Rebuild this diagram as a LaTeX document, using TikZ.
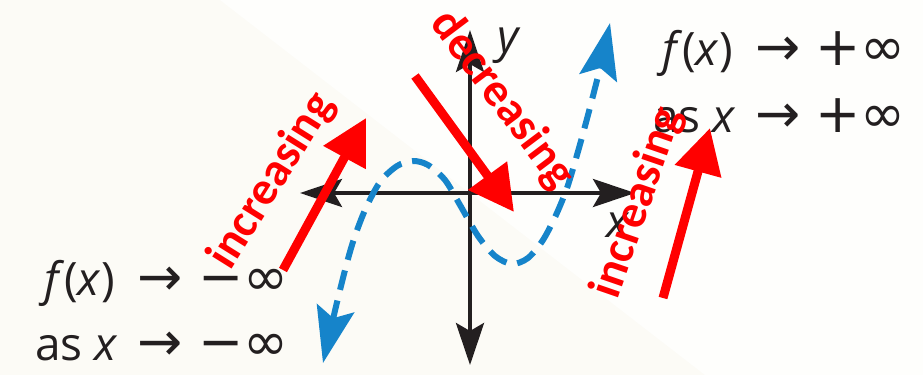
\documentclass[tikz,border=0pt]{standalone}
\usepackage{fontspec}
\setmainfont{Open Sans}
\newfontfamily\redfont{Carlito}
\newfontfamily\symfont{DejaVu Sans}
\usetikzlibrary{arrows.meta}
\definecolor{bg}{RGB}{252,251,246}
\definecolor{bgw}{RGB}{254,254,252}
\definecolor{ink}{RGB}{35,31,32}
\definecolor{curveblue}{RGB}{22,132,202}
\definecolor{redd}{RGB}{255,0,0}
\begin{document}
\begin{tikzpicture}[x=1pt,y=-1pt,
  axis/.style={draw=ink, line width=4pt, {Stealth[length=42pt,width=28pt,inset=8pt]}-{Stealth[length=42pt,width=28pt,inset=8pt]}},
  curvestyle/.style={draw=curveblue, line width=6pt, dash pattern=on 20pt off 11pt, {Stealth[length=56pt,width=38pt,inset=10pt]}-{Stealth[length=56pt,width=38pt,inset=10pt]}},
  redarrow/.style={draw=redd, line width=9pt, -{Triangle[length=45pt,width=46pt]}},
  redlabel/.style={text=redd, font=\redfont\bfseries\fontsize{47}{50}\selectfont, inner sep=0pt},
  mathtext/.style={text=ink, font=\fontsize{46}{50}\selectfont, inner sep=0pt},
  symtext/.style={text=ink, font=\symfont\fontsize{54}{58}\selectfont, inner sep=0pt},
]
\useasboundingbox (0,0) rectangle (923,375);
\fill[bg] (0,0) rectangle (923,375);
\fill[bgw] (220,0) -- (923,0) -- (923,375) -- (705,375) -- cycle;

% axes
\coordinate (xl) at (300,193);
\coordinate (xr) at (635,193);
\coordinate (yt) at (470,30);
\coordinate (yb) at (470,365);
\draw[axis] (xl) -- (xr);
\draw[axis] (yb) -- (yt);
\node[mathtext] (ylab) at (508,46) {\itshape y};
\node[mathtext] (xlab) at (618,225) {\itshape x};

% curve
\draw[curvestyle] plot[smooth, tension=0.5] coordinates {(323,363) (340,290) (352,245) (365,210) (380,182) (397,166) (413,161) (428,165) (445,180) (460,205) (478,236) (495,256) (512,264) (528,258) (543,240) (556,215) (567,188) (577,155) (588,115) (600,68) (610,23)};

% end behaviour texts
\node[mathtext, anchor=base east] (tr1a) at (733,65) {\textit{f}(\textit{x})};
\node[symtext, anchor=base] (tr1b) at (778,65) {→};
\node[symtext, anchor=base west] (tr1c) at (815,65) {+∞};
\node[mathtext, anchor=base east] (tr2a) at (736,132) {as \textit{x}};
\node[symtext, anchor=base] (tr2b) at (778,132) {→};
\node[symtext, anchor=base west] (tr2c) at (815,132) {+∞};

\node[mathtext, anchor=base east] (bl1a) at (115,295) {\textit{f}(\textit{x})};
\node[symtext, anchor=base] (bl1b) at (160,295) {→};
\node[symtext, anchor=base west] (bl1c) at (198,295) {−∞};
\node[mathtext, anchor=base east] (bl2a) at (118,360) {as \textit{x}};
\node[symtext, anchor=base] (bl2b) at (160,360) {→};
\node[symtext, anchor=base west] (bl2c) at (198,360) {−∞};

% red arrows
\coordinate (l1) at (283,270);
\coordinate (l2) at (366,118);
\coordinate (m1) at (415,76);
\coordinate (m2) at (514,212);
\coordinate (r1) at (663,298);
\coordinate (r2) at (710,128);
\draw[redarrow] (l1) -- (l2);
\draw[redarrow] (m1) -- (m2);
\draw[redarrow] (r1) -- (r2);

% red labels
\node[redlabel, rotate=58] (inc1) at (272,181) {increasing};
\node[redlabel, rotate=-53] (dec) at (502,100) {decreasing};
\node[redlabel, rotate=71] (inc2) at (638,203) {increasing};
\end{tikzpicture}
\end{document}
